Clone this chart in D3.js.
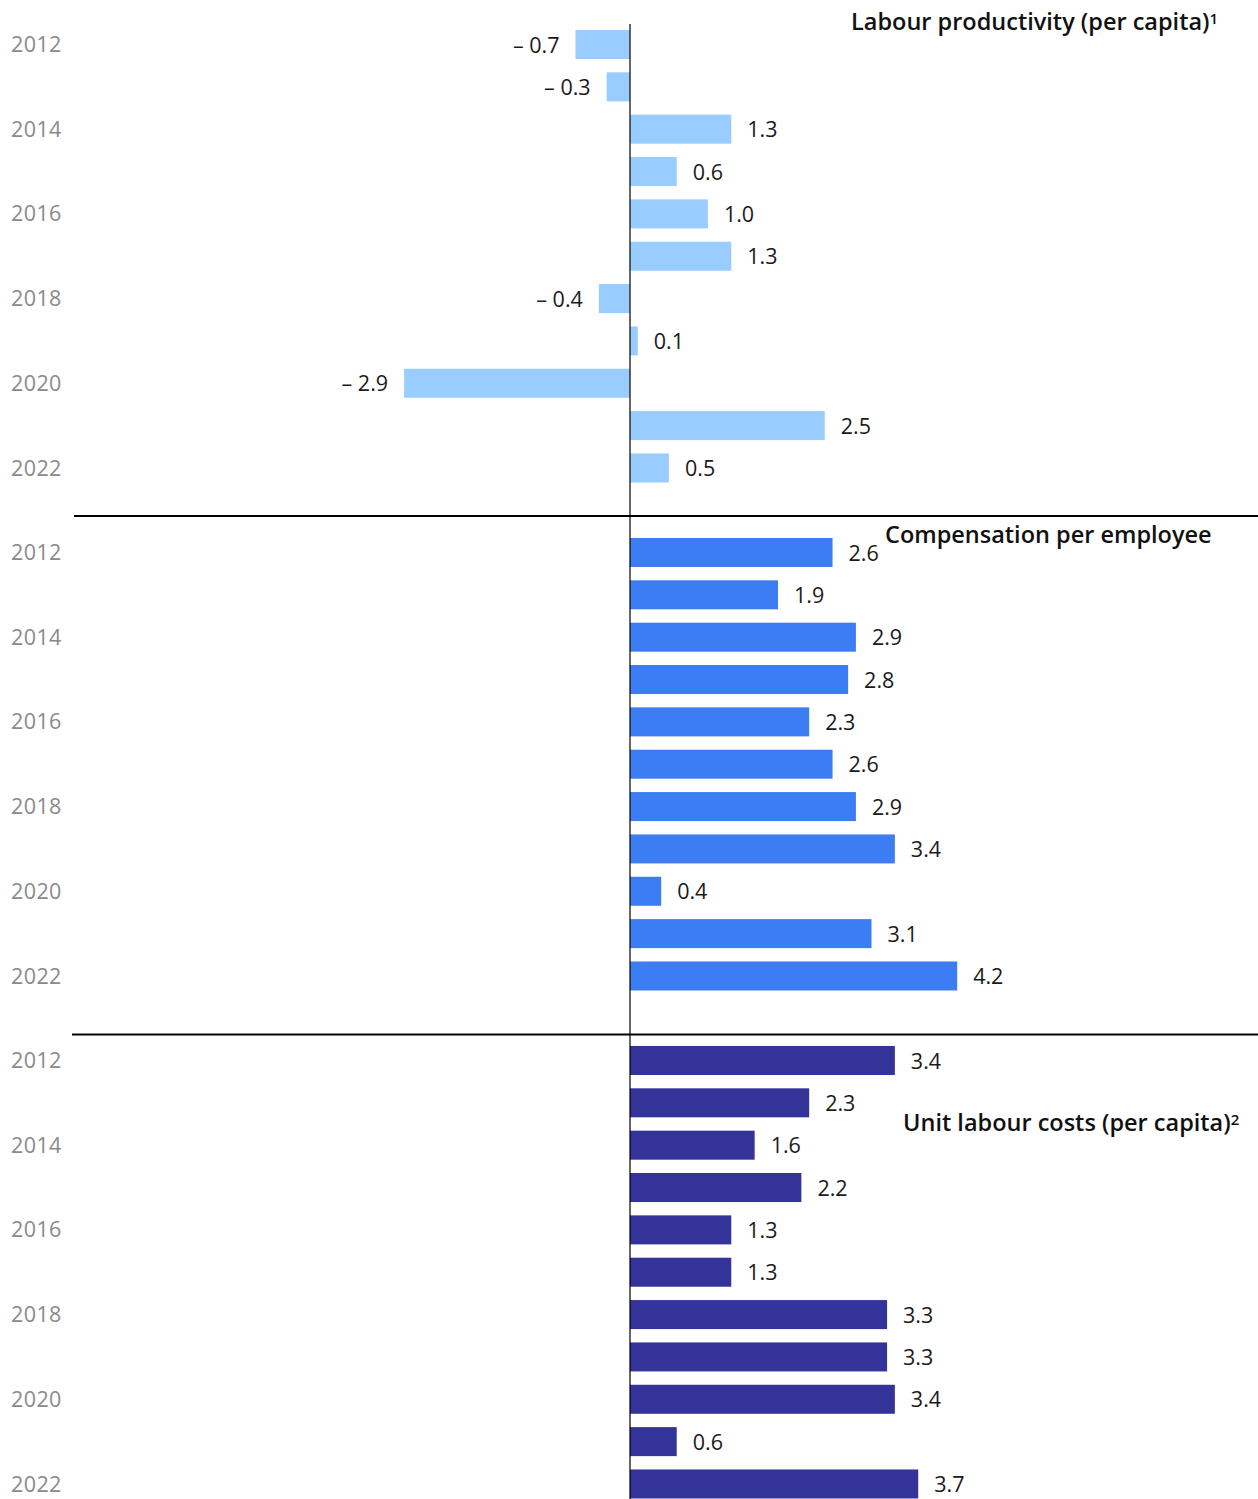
<!DOCTYPE html>
<html lang="en">
<meta charset="utf-8">
<head>
  <title>Labour productivity, compensation and unit labour costs</title>
  <style>
    body { margin: 0; background: #fff; }
    svg { display: block; }
    text { font-family: "Open Sans", "Noto Sans", sans-serif; }
    .year { fill: #8a8a8a; font-size: 21.5px; letter-spacing: 0.4px; }
    .val { fill: #1a1a1a; font-size: 21.5px; }
    .title { fill: #111; font-size: 23.5px; font-weight: 600; }
  </style>
</head>
<body>
<svg width="1258" height="1499"></svg>
<script src="https://cdn.jsdelivr.net/npm/d3@7"></script>
<script>

// data
var years = [2012, 2013, 2014, 2015, 2016, 2017, 2018, 2019, 2020, 2021, 2022];
var yearLabels = ["2012", "", "2014", "", "2016", "", "2018", "", "2020", "", "2022"];

var productivity = [-0.7, -0.3, 1.3, 0.6, 1.0, 1.3, -0.4, 0.1, -2.9, 2.5, 0.5];
var compensation = [2.6, 1.9, 2.9, 2.8, 2.3, 2.6, 2.9, 3.4, 0.4, 3.1, 4.2];
var unitCosts    = [3.4, 2.3, 1.6, 2.2, 1.3, 1.3, 3.3, 3.3, 3.4, 0.6, 3.7];

var panelTitles = ["Labour productivity (per capita)", "Compensation per employee", "Unit labour costs (per capita)"];
var titleNotes = ["1", "", "2"];
var colors = ["#99ccff", "#3d7df3", "#343399"];

var svg = d3.select("svg");

var x0 = 630, unit = 77.9;
var x = d3.scaleLinear().domain([-3, 4.5]).range([x0 - 3 * unit, x0 + 4.5 * unit]);

var panelH = 508, bandTop = 23.3, step = 42.35;

var panels = [
  {values: productivity, title: panelTitles[0], note: titleNotes[0], color: colors[0], tx: 851, ty: 30},
  {values: compensation, title: panelTitles[1], note: titleNotes[1], color: colors[1], tx: 885, ty: 543},
  {values: unitCosts,    title: panelTitles[2], note: titleNotes[2], color: colors[2], tx: 903, ty: 1131}
];

function fmt(v) {
  return v < 0 ? "\u2013 " + d3.format(".1f")(-v) : d3.format(".1f")(v);
}

panels.forEach(function(p, i) {
  var top = bandTop + i * panelH;
  var y = d3.scaleBand()
      .domain(years)
      .range([top, top + step * years.length])
      .paddingInner(0.315)
      .paddingOuter(0.1575);

  var g = svg.append("g").attr("class", "panel");

  var rows = years.map(function(yr, j) { return {year: yr, label: yearLabels[j], value: p.values[j]}; });

  g.selectAll(".year")
    .data(rows.filter(function(d) { return d.label; }))
    .enter().append("text")
      .attr("class", "year")
      .attr("x", 11)
      .attr("y", function(d) { return y(d.year) + y.bandwidth() / 2; })
      .attr("dy", "0.35em")
      .text(function(d) { return d.label; });

  g.selectAll(".bar")
    .data(rows)
    .enter().append("rect")
      .attr("class", "bar")
      .attr("x", function(d) { return x(Math.min(0, d.value)); })
      .attr("y", function(d) { return y(d.year); })
      .attr("width", function(d) { return Math.abs(x(d.value) - x(0)); })
      .attr("height", y.bandwidth())
      .attr("fill", p.color);

  g.selectAll(".val")
    .data(rows)
    .enter().append("text")
      .attr("class", "val")
      .attr("x", function(d) { return d.value < 0 ? x(d.value) - 16 : x(d.value) + 16; })
      .attr("y", function(d) { return y(d.year) + y.bandwidth() / 2; })
      .attr("dy", "0.38em")
      .attr("text-anchor", function(d) { return d.value < 0 ? "end" : "start"; })
      .text(function(d) { return fmt(d.value); });

  var t = g.append("text")
      .attr("class", "title")
      .attr("x", p.tx)
      .attr("y", p.ty)
      .text(p.title);
  if (p.note) {
    t.append("tspan")
      .attr("dy", "-0.4em")
      .style("font-size", "15px")
      .text(p.note);
  }
});

// separators between panels
svg.selectAll(".sep")
  .data([{y: 516, x1: 74}, {y: 1034.5, x1: 72}])
  .enter().append("line")
    .attr("class", "sep")
    .attr("x1", function(d) { return d.x1; })
    .attr("x2", 1258)
    .attr("y1", function(d) { return d.y; })
    .attr("y2", function(d) { return d.y; })
    .attr("stroke", "#000")
    .attr("stroke-width", 2);

// zero line
svg.append("line")
    .attr("x1", x(0)).attr("x2", x(0))
    .attr("y1", 24).attr("y2", 1499)
    .attr("stroke", "#000")
    .attr("stroke-width", 1.2);

</script>
</body>
</html>
